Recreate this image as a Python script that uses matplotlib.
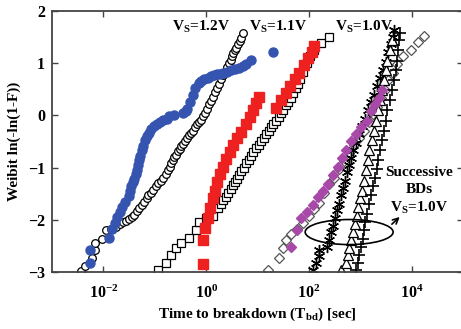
import numpy as np
import matplotlib
matplotlib.use("Agg")
import matplotlib.pyplot as plt
from matplotlib.patches import Ellipse

plt.rcParams['font.family'] = ['Liberation Serif', 'DejaVu Serif']
plt.rcParams['font.weight'] = 'bold'
plt.rcParams['mathtext.fontset'] = 'custom'
plt.rcParams['mathtext.bf'] = 'Liberation Serif:bold'
plt.rcParams['mathtext.rm'] = 'Liberation Serif:bold'
plt.rcParams['mathtext.default'] = 'bf'

# Vs = 1.2V, filled circles (log10 of time in sec, Weibit)
blue_logt = [-2.27, -2.27, -1.90, -1.84, -1.78, -1.73, -1.68, -1.63, -1.57, -1.51, -1.48,
             -1.46, -1.43, -1.40, -1.36, -1.34, -1.32, -1.30, -1.28, -1.25, -1.22, -1.18,
             -1.15, -1.11, -1.07, -1.01, -0.95, -0.89, -0.83, -0.77, -0.72, -0.62, -0.45,
             -0.40, -0.37, -0.31, -0.25, -0.21, -0.14, -0.09, -0.04, 0.03, 0.10, 0.16,
             0.21, 0.27, 0.33, 0.41, 0.49, 0.57, 0.64, 0.71, 0.78, 0.87, 1.30]
blue_w = [-2.82, -2.57, -2.34, -2.18, -2.06, -1.95, -1.85, -1.76, -1.65, -1.55, -1.45,
          -1.36, -1.28, -1.21, -1.13, -1.05, -0.95, -0.86, -0.77, -0.67, -0.58, -0.48,
          -0.40, -0.33, -0.27, -0.21, -0.16, -0.13, -0.09, -0.06, -0.02, 0.00, 0.04,
          0.08, 0.13, 0.25, 0.40, 0.52, 0.63, 0.66, 0.69, 0.72, 0.75, 0.77,
          0.79, 0.80, 0.82, 0.84, 0.86, 0.88, 0.90, 0.94, 0.98, 1.07, 1.21]

# Vs = 1.2V, open circles
circ_logt = [-2.43, -2.35, -2.23, -2.17, -2.16, -2.02, -1.94, -1.85, -1.75, -1.68, -1.61,
             -1.55, -1.50, -1.45, -1.40, -1.35, -1.30, -1.25, -1.20, -1.16, -1.13, -1.08,
             -1.03, -0.98, -0.93, -0.88, -0.83, -0.78, -0.74, -0.71, -0.68, -0.65, -0.62,
             -0.58, -0.54, -0.51, -0.49, -0.45, -0.41, -0.37, -0.33, -0.29, -0.25, -0.21,
             -0.17, -0.13, -0.10, -0.06, -0.02, 0.02, 0.06, 0.10, 0.14, 0.18, 0.21, 0.25,
             0.29, 0.33, 0.37, 0.41, 0.45, 0.48, 0.50, 0.53, 0.56, 0.59, 0.62, 0.65,
             0.68, 0.72]
circ_w = [-2.99, -2.89, -2.74, -2.57, -2.45, -2.36, -2.20, -2.17, -2.13, -2.09, -2.05,
          -2.02, -1.99, -1.95, -1.90, -1.84, -1.78, -1.72, -1.65, -1.59, -1.53, -1.48,
          -1.42, -1.36, -1.30, -1.25, -1.19, -1.12, -1.05, -0.98, -0.92, -0.86, -0.80,
          -0.75, -0.69, -0.64, -0.59, -0.55, -0.50, -0.44, -0.38, -0.34, -0.29, -0.23,
          -0.17, -0.12, -0.08, -0.02, 0.04, 0.12, 0.21, 0.28, 0.36, 0.44, 0.52, 0.61,
          0.69, 0.77, 0.84, 0.92, 1.00, 1.07, 1.13, 1.19, 1.25, 1.30, 1.36, 1.42,
          1.48, 1.57]

# Vs = 1.1V, filled squares
red_logt = [-0.06, -0.06, -0.02, 0.04, 0.08, 0.14, 0.17, 0.21, 0.27, 0.33, 0.39, 0.47,
            0.52, 0.60, 0.68, 0.78, 0.85, 0.91, 0.97, 1.03, 1.36, 1.46, 1.55, 1.63,
            1.73, 1.81, 1.90, 1.98, 2.06, 2.10]
red_w = [-2.84, -2.39, -2.16, -1.97, -1.78, -1.59, -1.44, -1.28, -1.13, -0.98, -0.84, -0.71,
         -0.57, -0.44, -0.31, -0.17, -0.04, 0.10, 0.23, 0.36, 0.15, 0.29, 0.42, 0.56,
         0.69, 0.82, 0.96, 1.09, 1.21, 1.32]

# Vs = 1.1V, open squares
sq_logt = [-0.93, -0.78, -0.68, -0.58, -0.49, -0.33, -0.19, -0.14, 0.00, 0.14, 0.23, 0.28,
           0.33, 0.38, 0.43, 0.48, 0.52, 0.56, 0.60, 0.64, 0.68, 0.73, 0.78, 0.83, 0.87,
           0.92, 0.97, 1.02, 1.07, 1.12, 1.17, 1.22, 1.26, 1.31, 1.36, 1.41, 1.46, 1.50,
           1.55, 1.60, 1.65, 1.70, 1.75, 1.79, 1.83, 1.88, 1.96, 2.02, 2.10, 2.23, 2.39]
sq_w = [-2.97, -2.82, -2.68, -2.55, -2.45, -2.34, -2.20, -2.05, -1.97, -1.92, -1.78, -1.70,
        -1.63, -1.56, -1.49, -1.41, -1.34, -1.28, -1.21, -1.14, -1.07, -1.00, -0.92, -0.85,
        -0.77, -0.70, -0.63, -0.56, -0.50, -0.43, -0.36, -0.30, -0.23, -0.17, -0.10, -0.03,
        0.04, 0.11, 0.19, 0.26, 0.34, 0.43, 0.52, 0.60, 0.69, 0.84, 1.00, 1.13, 1.26,
        1.38, 1.51]

# Vs = 1.0V, filled diamonds
mag_logt = [1.65, 1.77, 1.84, 1.96, 2.08, 2.17, 2.27, 2.37, 2.47, 2.56, 2.64, 2.72, 2.82,
            2.91, 3.01, 3.13, 3.20, 3.28, 3.36, 3.42]
mag_w = [-2.53, -2.20, -1.97, -1.86, -1.72, -1.57, -1.44, -1.32, -1.15, -0.98, -0.82, -0.67,
         -0.50, -0.36, -0.23, -0.10, 0.08, 0.21, 0.34, 0.48]

# Vs = 1.0V, open diamonds
dia_logt = [1.20, 1.42, 1.50, 1.55, 1.65, 1.77, 1.88, 2.00, 2.10, 2.19, 2.29, 2.39, 2.49,
            2.58, 2.68, 2.78, 2.87, 2.97, 3.07, 3.17, 3.24, 3.32, 3.40, 3.48, 3.55, 3.63,
            3.71, 3.84, 3.98, 4.12, 4.25]
dia_w = [-2.97, -2.74, -2.55, -2.39, -2.28, -2.18, -2.07, -1.93, -1.80, -1.67, -1.49, -1.32,
         -1.19, -1.03, -0.88, -0.73, -0.57, -0.44, -0.29, -0.13, 0.02, 0.17, 0.33, 0.48,
         0.67, 0.82, 0.98, 1.13, 1.26, 1.40, 1.53]

# successive BDs, Vs = 1.0V
star_logt = [2.08, 2.14, 2.19, 2.19, 2.35, 2.39, 2.43, 2.47, 2.50, 2.54, 2.58, 2.62, 2.66,
             2.70, 2.74, 2.78, 2.82, 2.85, 2.91, 2.97, 3.03, 3.09, 3.15, 3.20, 3.26, 3.32,
             3.38, 3.44, 3.50, 3.55, 3.59, 3.63, 3.65]
star_w = [-2.97, -2.82, -2.70, -2.57, -2.53, -2.39, -2.24, -2.11, -1.97, -1.82, -1.69, -1.53,
          -1.40, -1.25, -1.09, -0.96, -0.82, -0.67, -0.52, -0.36, -0.21, -0.06, 0.10, 0.25,
          0.40, 0.56, 0.71, 0.86, 1.02, 1.21, 1.36, 1.51, 1.63]

tri_logt = [2.62, 2.72, 2.76, 2.78, 2.82, 2.85, 2.89, 2.93, 2.95, 2.99, 3.03, 3.07, 3.11,
            3.15, 3.18, 3.22, 3.26, 3.30, 3.34, 3.38, 3.42, 3.46, 3.50, 3.53, 3.57, 3.61]
tri_w = [-2.97, -2.82, -2.68, -2.55, -2.39, -2.24, -2.09, -1.92, -1.76, -1.59, -1.44, -1.25,
         -1.05, -0.86, -0.67, -0.48, -0.29, -0.10, 0.10, 0.29, 0.48, 0.67, 0.86, 1.05,
         1.25, 1.44]

plus_logt = [2.91, 2.95, 2.97, 3.01, 3.05, 3.07, 3.09, 3.13, 3.17, 3.20, 3.24, 3.28, 3.32,
             3.34, 3.38, 3.42, 3.46, 3.50, 3.53, 3.57, 3.61, 3.65, 3.69, 3.71, 3.73,
             3.75, 3.77]
plus_w = [-2.97, -2.82, -2.68, -2.53, -2.36, -2.20, -2.05, -1.88, -1.70, -1.53, -1.36, -1.19,
          -1.02, -0.86, -0.67, -0.48, -0.29, -0.10, 0.10, 0.29, 0.48, 0.67, 0.86, 1.05,
          1.25, 1.44, 1.57]

xticks = [1e-2, 1e0, 1e2, 1e4]
yticks = [-3, -2, -1, 0, 1, 2]


def t(v):
    return 10 ** np.array(v)


fig = plt.figure(figsize=(4.61, 3.29), dpi=100)
ax = fig.add_axes([0.1128, 0.1733, 0.8915, 0.7933])

# open (reference) markers first, coloured ones on top
ax.plot(t(circ_logt), circ_w, 'o', ms=5.5, mfc='white', mec='black', mew=0.9, ls='none')
ax.plot(t(sq_logt), sq_w, 's', ms=6, mfc='white', mec='black', mew=0.9, ls='none')
ax.plot(t(dia_logt), dia_w, 'D', ms=5, mfc='white', mec='#555555', mew=0.9, ls='none')
ax.plot(t(star_logt), star_w, marker=(6, 2, 0), ms=8, mec='black', mew=1.0, ls='none')
ax.plot(t(tri_logt), tri_w, '^', ms=6.5, mfc='white', mec='black', mew=0.9, ls='none')
ax.plot(t(plus_logt), plus_w, '+', ms=9, mec='black', mew=1.2, ls='none')
ax.plot(t(blue_logt), blue_w, 'o', ms=6.5, color='#3454b0', ls='none')
ax.plot(t(red_logt), red_w, 's', ms=6.5, color='#ee2020', ls='none')
ax.plot(t(mag_logt), mag_w, 'D', ms=5.5, color='#a848a8', ls='none')

ax.set_xscale('log')
ax.set_xlim(1e-3, 1e5)
ax.set_ylim(-3, 2)
ax.set_xticks(xticks)
ax.set_yticks(yticks)
ax.minorticks_off()
ax.tick_params(direction='in', top=True, right=True, length=4, width=1,
               labelsize=11.5, color='#444444')
ax.tick_params(axis='x', pad=9)
ax.tick_params(axis='y', pad=5)
for s in ax.spines.values():
    s.set_color('#444444')
    s.set_linewidth(1.3)

ax.set_xlabel('Time to breakdown (T$_{bd}$) [sec]', fontsize=11, fontweight='bold', labelpad=3)
ax.set_ylabel('Weibit ln(-ln(1-F))', fontsize=11, fontweight='bold', labelpad=5)

ax.text(0.362, 0.94, 'V$_S$=1.2V', transform=ax.transAxes, ha='center', va='center', fontsize=11)
ax.text(0.550, 0.94, 'V$_S$=1.1V', transform=ax.transAxes, ha='center', va='center', fontsize=11)
ax.text(0.760, 0.94, 'V$_S$=1.0V', transform=ax.transAxes, ha='center', va='center', fontsize=11)
ax.text(0.893, 0.31, 'Successive\nBDs\nV$_S$=1.0V', transform=ax.transAxes,
        ha='center', va='center', fontsize=11, linespacing=1.35)

ax.add_patch(Ellipse((0.723, 0.153), 0.214, 0.096, transform=ax.transAxes,
                     fill=False, ec='black', lw=1.2, zorder=5))
ax.annotate('', xy=(0.851, 0.218), xytext=(0.822, 0.176), xycoords='axes fraction',
            arrowprops=dict(arrowstyle='->', lw=1.2, color='black'))

fig.savefig('out.png', dpi=100)
